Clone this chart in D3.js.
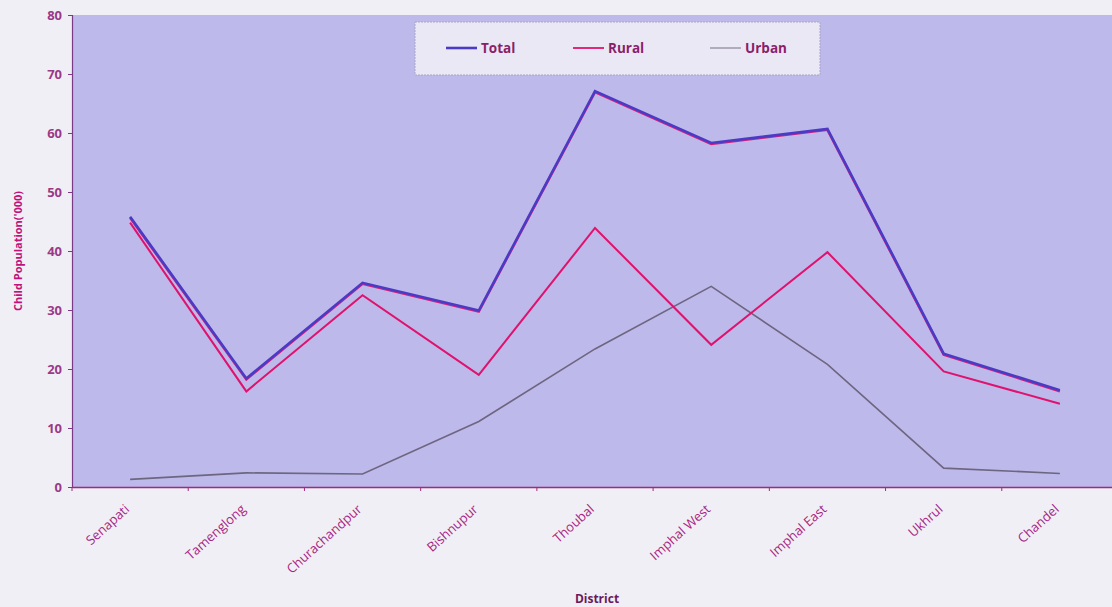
<!DOCTYPE html>
<html><head><meta charset="utf-8">
<script src="https://cdn.jsdelivr.net/npm/d3@7"></script>
<style>body{margin:0;background:#f1eff6;} svg{display:block;}</style>
</head><body>
<svg id="chart" width="1112" height="607"></svg>
<script>
const districts = ["Senapati","Tamenglong","Churachandpur","Bishnupur","Thoubal","Imphal West","Imphal  East","Ukhrul","Chandel"];
const totalValues = [45.8, 18.4, 34.6, 29.9, 67.1, 58.3, 60.7, 22.6, 16.4];
const ruralValues = [44.8, 16.2, 32.5, 19.0, 43.9, 24.1, 39.8, 19.6, 14.1];
const urbanValues = [1.3, 2.4, 2.2, 11.1, 23.4, 34.0, 20.8, 3.2, 2.3];
const yTicks = [0,10,20,30,40,50,60,70,80];
const seriesNames = ["Total","Rural","Urban"];

const svg = d3.select("#chart");
const mLeft = 72, mTop = 15, mBottom = 487, mRight = 1118;

const x = d3.scaleBand().domain(districts).range([mLeft, mRight]).padding(0);
const y = d3.scaleLinear().domain([0, 80]).range([mBottom, mTop]);
const cx = d => x(d) + x.bandwidth()/2;

// plot background
svg.append("rect").attr("x", mLeft).attr("y", mTop).attr("width", mRight-mLeft).attr("height", mBottom-mTop)
  .attr("fill", "#bdb9ea");

// axes
const yAxis = d3.axisLeft(y).tickValues(yTicks).tickSize(4).tickPadding(6);
const gy = svg.append("g").attr("transform", `translate(${mLeft},0)`).call(yAxis);
gy.select(".domain").attr("stroke", "#7a3a86").attr("stroke-width", 1.2);
gy.selectAll(".tick line").attr("stroke", "#7a3a86");
gy.selectAll(".tick text").attr("fill", "#9a3a86").attr("font-family", "Open Sans, sans-serif")
  .attr("font-size", 13).attr("font-weight", "bold");

const xAxis = d3.axisBottom(x).tickSize(0).tickPadding(0);
const gx = svg.append("g").attr("transform", `translate(0,${mBottom})`).call(xAxis);
gx.select(".domain").attr("stroke", "#a02a7e").attr("stroke-width", 1.5);
gx.selectAll(".tick text")
  .attr("fill", "#a8267f").attr("font-family", "Open Sans, sans-serif").attr("font-size", 13)
  .attr("text-anchor", "end")
  .attr("transform", "translate(-3,20) rotate(-42)")
  .attr("dx", 0).attr("dy", "0.35em").attr("y", 0);
// boundary ticks
svg.append("g").selectAll("line").data(districts).join("line")
  .attr("x1", d => x(d)).attr("x2", d => x(d)).attr("y1", mBottom).attr("y2", mBottom+4)
  .attr("stroke", "#a02a7e");

// lines
const line = vals => d3.line().x((d,i) => cx(districts[i])).y(d => y(d))(vals);
svg.append("path").attr("d", line(urbanValues)).attr("fill","none").attr("stroke","#6d6680").attr("stroke-width",1.6);
svg.append("path").attr("d", line(ruralValues)).attr("fill","none").attr("stroke","#e0126e").attr("stroke-width",2);
svg.append("path").attr("d", line(totalValues)).attr("fill","none").attr("stroke","#d8207a").attr("stroke-width",2.5)
  .attr("transform","translate(0,1)");
svg.append("path").attr("d", line(totalValues)).attr("fill","none").attr("stroke","#4a3bc6").attr("stroke-width",2.6);

// legend
const lg = svg.append("g");
lg.append("rect").attr("x", 415).attr("y", 22).attr("width", 405).attr("height", 53)
  .attr("fill", "#ebe8f6").attr("stroke", "#a9a4c4").attr("stroke-width", 1).attr("stroke-dasharray","2,1");
const legendX = [446, 573, 710];
const legendColors = ["#4a3bc6", "#e0126e", "#8a8498"];
const legendWidths = [2.6, 1.8, 1.2];
seriesNames.forEach((n, i) => {
  lg.append("line").attr("x1", legendX[i]).attr("x2", legendX[i]+31).attr("y1", 48).attr("y2", 48)
    .attr("stroke", legendColors[i]).attr("stroke-width", legendWidths[i]);
  lg.append("text").attr("x", legendX[i]+35).attr("y", 53).text(n)
    .attr("fill", "#8a1f6a").attr("font-family", "Open Sans, sans-serif").attr("font-size", 13.5).attr("font-weight", "bold");
});

// axis titles
svg.append("text").attr("transform", `translate(22,${(mTop+mBottom)/2}) rotate(-90)`).attr("text-anchor","middle")
  .text("Child Population('000)").attr("fill","#c0127c").attr("font-family","Open Sans, sans-serif")
  .attr("font-size", 11).attr("font-weight","bold");
svg.append("text").attr("x", 597).attr("y", 603).attr("text-anchor","middle").text("District")
  .attr("fill","#6a1a5c").attr("font-family","Open Sans, sans-serif").attr("font-size", 12).attr("font-weight","bold");
</script>
</body></html>
